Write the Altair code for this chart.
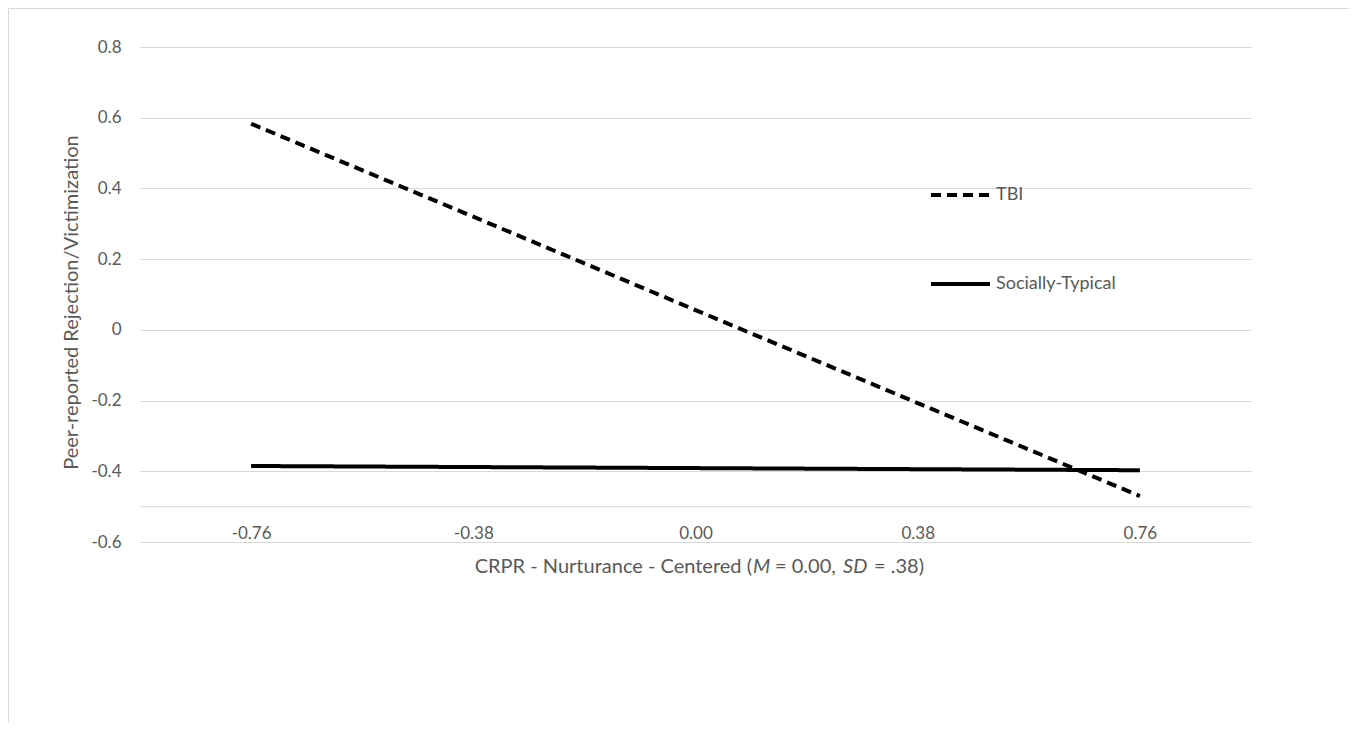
import altair as alt
import pandas as pd

# ---- data ----
categories = ["-0.76", "-0.38", "0.00", "0.38", "0.76"]
tbi_values = [0.583, 0.320, 0.056, -0.207, -0.470]
typical_values = [-0.385, -0.388, -0.391, -0.394, -0.397]
series_names = ["TBI", "Socially-Typical"]
y_ticks = [-0.6, -0.4, -0.2, 0.0, 0.2, 0.4, 0.6, 0.8]
axis_cross = [-0.5]

title_parts = ["CRPR - Nurturance - Centered (", "M", "= 0.00,", "SD", "= .38)"]
title_italic = [False, True, False, True, False]
title_align = ["right", "left", "left", "left", "left"]
title_anchor = [612, 613, 635, 703, 734]

FONT = "Lato"
GREY = "#595959"
GRID = "#d9d9d9"
FS_TICK = 17
FS_LEG = 18
FS_TITLE = 20

rows = []
for name, vals in zip(series_names, [tbi_values, typical_values]):
    for c, v in zip(categories, vals):
        rows.append({"x": c, "y": v, "group": name})
df = pd.DataFrame(rows)

x_enc = alt.X(
    "x:O",
    sort=categories,
    scale=alt.Scale(type="point", padding=0.5),
    axis=alt.Axis(
        title=None, grid=False, domain=False, ticks=False, tickSize=0,
        offset=-35, labelAngle=0, labelPadding=26, labelBaseline="middle",
        labelFont=FONT, labelFontSize=FS_TICK, labelColor=GREY,
    ),
)
y_enc = alt.Y(
    "y:Q",
    scale=alt.Scale(domain=[-0.6, 0.8], nice=False, zero=False),
    axis=alt.Axis(
        values=y_ticks, grid=True, gridColor=GRID, gridWidth=1,
        domain=False, ticks=False, tickSize=0, labelPadding=19,
        labelExpr="datum.value == 0 ? '0' : (datum.value < 0 ? '-' + format(-datum.value, '.1f') : format(datum.value, '.1f'))",
        labelFont=FONT, labelFontSize=FS_TICK, labelColor=GREY,
        title="Peer-reported Rejection/Victimization",
        titleFont=FONT, titleFontSize=FS_TITLE, titleColor=GREY, titleFontWeight="normal",
        titleX=-69, titleY=255, titleAngle=-90, titleAlign="center", titleBaseline="middle",
    ),
)

lines = alt.Chart(df).mark_line(color="black", strokeWidth=4, strokeCap="butt").encode(
    x=x_enc,
    y=y_enc,
    strokeDash=alt.StrokeDash(
        "group:N",
        scale=alt.Scale(domain=series_names, range=[[10, 6], [1, 0]]),
        legend=alt.Legend(
            title=None, orient="none", legendX=789, legendY=116.5, padding=0,
            symbolType="stroke", symbolSize=3481, symbolStrokeWidth=4,
            symbolStrokeColor="black", labelOffset=4, rowPadding=48,
            labelFont=FONT, labelFontSize=FS_LEG, labelColor=GREY,
        ),
    ),
    detail="group:N",
)

cross = alt.Chart(pd.DataFrame({"y": axis_cross})).mark_rule(color=GRID, strokeWidth=1).encode(
    y=alt.Y("y:Q")
)

border = alt.Chart(pd.DataFrame({"a": [0]})).mark_rect(
    fillOpacity=0, stroke=GRID, strokeWidth=1
).encode(
    x=alt.value(-131.5), x2=alt.value(1209.5), y=alt.value(-38.5), y2=alt.value(900)
)

title_layers = []
for part, ital, al, pos in zip(title_parts, title_italic, title_align, title_anchor):
    title_layers.append(
        alt.Chart(pd.DataFrame({"t": [part]})).mark_text(
            font=FONT, fontSize=FS_TITLE, color=GREY, align=al, baseline="middle",
            fontStyle="italic" if ital else "normal",
        ).encode(text="t:N", x=alt.value(pos), y=alt.value(520))
    )

chart = alt.layer(border, cross, lines, *title_layers).properties(
    width=1111, height=495,
    autosize=alt.AutoSizeParams(type="none"),
    padding={"left": 132, "top": 39, "right": 98, "bottom": 181},
).configure(background="white").configure_view(strokeWidth=0, stroke="transparent")

chart.save("out.html", embed_options={"renderer": "svg", "actions": False})
